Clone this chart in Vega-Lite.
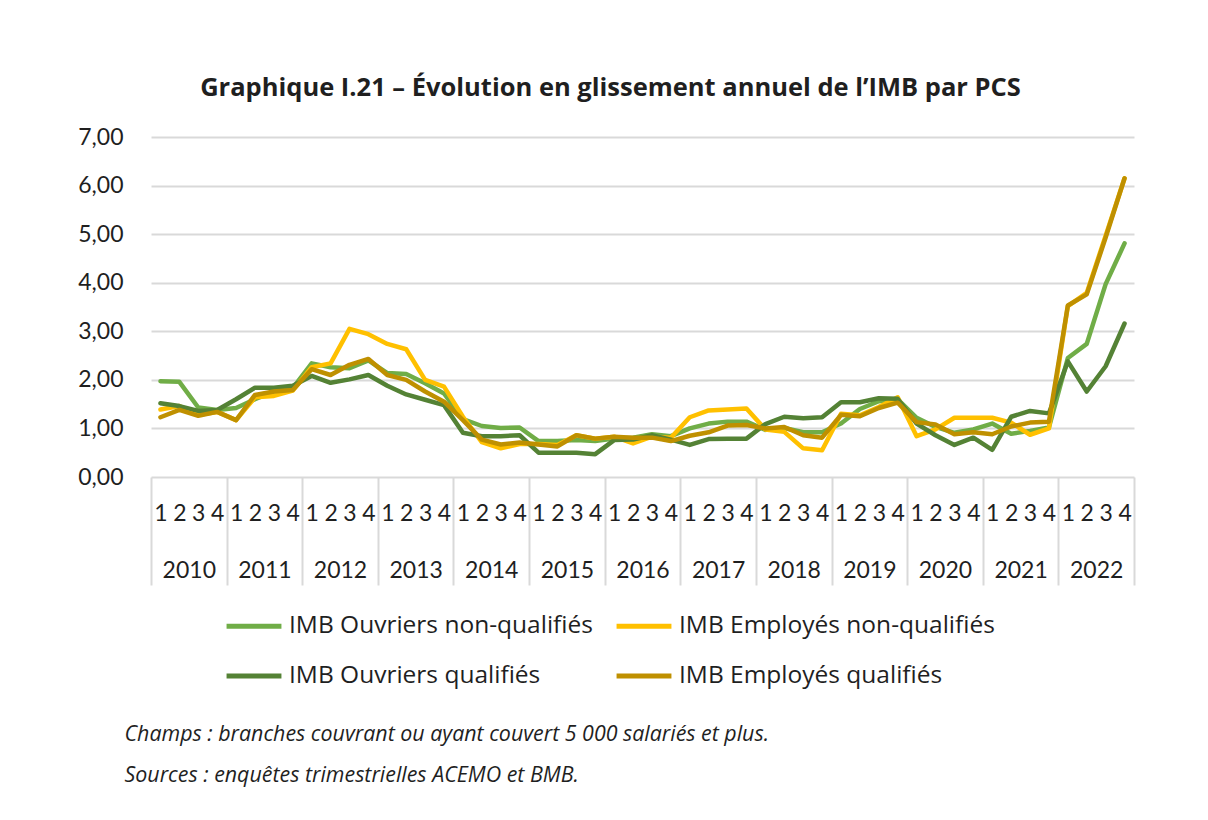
{
  "$schema": "https://vega.github.io/schema/vega-lite/v6.json",
  "width": 983,
  "height": 340,
  "autosize": {"type": "none"},
  "padding": {"left": 151, "top": 137, "right": 74, "bottom": 343},
  "background": "white",
  "config": {
    "font": "Lato",
    "view": {"stroke": null},
    "axis": {"labelFont": "Lato", "labelColor": "#1f1f1f", "titleFont": "Open Sans"}
  },
  "title": {
    "text": "Graphique I.21 – Évolution en glissement annuel de l’IMB par PCS",
    "font": "Open Sans",
    "fontSize": 25.5,
    "fontWeight": "bold",
    "color": "#1f1f1f",
    "anchor": "middle",
    "frame": "group",
    "dx": -32,
    "baseline": "alphabetic",
    "offset": 5
  },
  "resolve": {"scale": {"x": "independent"}},
  "layer": [
    {
      "data": {"values": [
        {"year": "2010"}, {"year": "2011"}, {"year": "2012"}, {"year": "2013"}, {"year": "2014"},
        {"year": "2015"}, {"year": "2016"}, {"year": "2017"}, {"year": "2018"}, {"year": "2019"},
        {"year": "2020"}, {"year": "2021"}, {"year": "2022"}
      ]},
      "mark": {"type": "bar", "opacity": 0},
      "encoding": {
        "x": {
          "field": "year", "type": "ordinal",
          "scale": {"type": "band", "paddingInner": 0, "paddingOuter": 0},
          "axis": {
            "orient": "bottom",
            "domain": false,
            "grid": false,
            "ticks": true,
            "tickBand": "extent",
            "tickSize": 108,
            "tickColor": "#d9d9d9",
            "tickWidth": 2,
            "labelAngle": 0,
            "labelFontSize": 23,
            "labelBaseline": "middle",
            "labelPadding": -15,
            "title": ["Champs : branches couvrant ou ayant couvert 5 000 salariés et plus.", "Sources : enquêtes trimestrielles ACEMO et BMB."],
            "titleFont": "Open Sans",
            "titleFontSize": 21.4,
            "titleFontStyle": "italic",
            "titleFontWeight": "normal",
            "titleColor": "#1f1f1f",
            "titleAlign": "left",
            "titleAnchor": "start",
            "titleBaseline": "alphabetic",
            "titleAngle": 0,
            "titleX": -27,
            "titleY": 263,
            "titleLineHeight": 41
          }
        }
      }
    },
    {
      "data": {"values": [
        {"k": "2010-1", "s": "IMB Ouvriers non-qualifiés", "v": 1.97},
        {"k": "2010-2", "s": "IMB Ouvriers non-qualifiés", "v": 1.96},
        {"k": "2010-3", "s": "IMB Ouvriers non-qualifiés", "v": 1.43},
        {"k": "2010-4", "s": "IMB Ouvriers non-qualifiés", "v": 1.38},
        {"k": "2011-1", "s": "IMB Ouvriers non-qualifiés", "v": 1.42},
        {"k": "2011-2", "s": "IMB Ouvriers non-qualifiés", "v": 1.60},
        {"k": "2011-3", "s": "IMB Ouvriers non-qualifiés", "v": 1.76},
        {"k": "2011-4", "s": "IMB Ouvriers non-qualifiés", "v": 1.83},
        {"k": "2012-1", "s": "IMB Ouvriers non-qualifiés", "v": 2.34},
        {"k": "2012-2", "s": "IMB Ouvriers non-qualifiés", "v": 2.26},
        {"k": "2012-3", "s": "IMB Ouvriers non-qualifiés", "v": 2.24},
        {"k": "2012-4", "s": "IMB Ouvriers non-qualifiés", "v": 2.40},
        {"k": "2013-1", "s": "IMB Ouvriers non-qualifiés", "v": 2.14},
        {"k": "2013-2", "s": "IMB Ouvriers non-qualifiés", "v": 2.12},
        {"k": "2013-3", "s": "IMB Ouvriers non-qualifiés", "v": 1.93},
        {"k": "2013-4", "s": "IMB Ouvriers non-qualifiés", "v": 1.72},
        {"k": "2014-1", "s": "IMB Ouvriers non-qualifiés", "v": 1.19},
        {"k": "2014-2", "s": "IMB Ouvriers non-qualifiés", "v": 1.05},
        {"k": "2014-3", "s": "IMB Ouvriers non-qualifiés", "v": 1.01},
        {"k": "2014-4", "s": "IMB Ouvriers non-qualifiés", "v": 1.02},
        {"k": "2015-1", "s": "IMB Ouvriers non-qualifiés", "v": 0.74},
        {"k": "2015-2", "s": "IMB Ouvriers non-qualifiés", "v": 0.74},
        {"k": "2015-3", "s": "IMB Ouvriers non-qualifiés", "v": 0.76},
        {"k": "2015-4", "s": "IMB Ouvriers non-qualifiés", "v": 0.74},
        {"k": "2016-1", "s": "IMB Ouvriers non-qualifiés", "v": 0.79},
        {"k": "2016-2", "s": "IMB Ouvriers non-qualifiés", "v": 0.81},
        {"k": "2016-3", "s": "IMB Ouvriers non-qualifiés", "v": 0.88},
        {"k": "2016-4", "s": "IMB Ouvriers non-qualifiés", "v": 0.84},
        {"k": "2017-1", "s": "IMB Ouvriers non-qualifiés", "v": 1.00},
        {"k": "2017-2", "s": "IMB Ouvriers non-qualifiés", "v": 1.10},
        {"k": "2017-3", "s": "IMB Ouvriers non-qualifiés", "v": 1.14},
        {"k": "2017-4", "s": "IMB Ouvriers non-qualifiés", "v": 1.14},
        {"k": "2018-1", "s": "IMB Ouvriers non-qualifiés", "v": 0.97},
        {"k": "2018-2", "s": "IMB Ouvriers non-qualifiés", "v": 1.01},
        {"k": "2018-3", "s": "IMB Ouvriers non-qualifiés", "v": 0.92},
        {"k": "2018-4", "s": "IMB Ouvriers non-qualifiés", "v": 0.92},
        {"k": "2019-1", "s": "IMB Ouvriers non-qualifiés", "v": 1.10},
        {"k": "2019-2", "s": "IMB Ouvriers non-qualifiés", "v": 1.40},
        {"k": "2019-3", "s": "IMB Ouvriers non-qualifiés", "v": 1.56},
        {"k": "2019-4", "s": "IMB Ouvriers non-qualifiés", "v": 1.60},
        {"k": "2020-1", "s": "IMB Ouvriers non-qualifiés", "v": 1.22},
        {"k": "2020-2", "s": "IMB Ouvriers non-qualifiés", "v": 1.03},
        {"k": "2020-3", "s": "IMB Ouvriers non-qualifiés", "v": 0.91},
        {"k": "2020-4", "s": "IMB Ouvriers non-qualifiés", "v": 0.98},
        {"k": "2021-1", "s": "IMB Ouvriers non-qualifiés", "v": 1.10},
        {"k": "2021-2", "s": "IMB Ouvriers non-qualifiés", "v": 0.89},
        {"k": "2021-3", "s": "IMB Ouvriers non-qualifiés", "v": 0.95},
        {"k": "2021-4", "s": "IMB Ouvriers non-qualifiés", "v": 1.02},
        {"k": "2022-1", "s": "IMB Ouvriers non-qualifiés", "v": 2.45},
        {"k": "2022-2", "s": "IMB Ouvriers non-qualifiés", "v": 2.74},
        {"k": "2022-3", "s": "IMB Ouvriers non-qualifiés", "v": 3.97},
        {"k": "2022-4", "s": "IMB Ouvriers non-qualifiés", "v": 4.81},

        {"k": "2010-1", "s": "IMB Employés non-qualifiés", "v": 1.39},
        {"k": "2010-2", "s": "IMB Employés non-qualifiés", "v": 1.46},
        {"k": "2010-3", "s": "IMB Employés non-qualifiés", "v": 1.28},
        {"k": "2010-4", "s": "IMB Employés non-qualifiés", "v": 1.34},
        {"k": "2011-1", "s": "IMB Employés non-qualifiés", "v": 1.17},
        {"k": "2011-2", "s": "IMB Employés non-qualifiés", "v": 1.64},
        {"k": "2011-3", "s": "IMB Employés non-qualifiés", "v": 1.67},
        {"k": "2011-4", "s": "IMB Employés non-qualifiés", "v": 1.78},
        {"k": "2012-1", "s": "IMB Employés non-qualifiés", "v": 2.26},
        {"k": "2012-2", "s": "IMB Employés non-qualifiés", "v": 2.34},
        {"k": "2012-3", "s": "IMB Employés non-qualifiés", "v": 3.05},
        {"k": "2012-4", "s": "IMB Employés non-qualifiés", "v": 2.94},
        {"k": "2013-1", "s": "IMB Employés non-qualifiés", "v": 2.74},
        {"k": "2013-2", "s": "IMB Employés non-qualifiés", "v": 2.63},
        {"k": "2013-3", "s": "IMB Employés non-qualifiés", "v": 2.00},
        {"k": "2013-4", "s": "IMB Employés non-qualifiés", "v": 1.86},
        {"k": "2014-1", "s": "IMB Employés non-qualifiés", "v": 1.24},
        {"k": "2014-2", "s": "IMB Employés non-qualifiés", "v": 0.72},
        {"k": "2014-3", "s": "IMB Employés non-qualifiés", "v": 0.59},
        {"k": "2014-4", "s": "IMB Employés non-qualifiés", "v": 0.68},
        {"k": "2015-1", "s": "IMB Employés non-qualifiés", "v": 0.68},
        {"k": "2015-2", "s": "IMB Employés non-qualifiés", "v": 0.66},
        {"k": "2015-3", "s": "IMB Employés non-qualifiés", "v": 0.86},
        {"k": "2015-4", "s": "IMB Employés non-qualifiés", "v": 0.79},
        {"k": "2016-1", "s": "IMB Employés non-qualifiés", "v": 0.83},
        {"k": "2016-2", "s": "IMB Employés non-qualifiés", "v": 0.69},
        {"k": "2016-3", "s": "IMB Employés non-qualifiés", "v": 0.83},
        {"k": "2016-4", "s": "IMB Employés non-qualifiés", "v": 0.81},
        {"k": "2017-1", "s": "IMB Employés non-qualifiés", "v": 1.23},
        {"k": "2017-2", "s": "IMB Employés non-qualifiés", "v": 1.37},
        {"k": "2017-3", "s": "IMB Employés non-qualifiés", "v": 1.39},
        {"k": "2017-4", "s": "IMB Employés non-qualifiés", "v": 1.41},
        {"k": "2018-1", "s": "IMB Employés non-qualifiés", "v": 0.98},
        {"k": "2018-2", "s": "IMB Employés non-qualifiés", "v": 0.93},
        {"k": "2018-3", "s": "IMB Employés non-qualifiés", "v": 0.59},
        {"k": "2018-4", "s": "IMB Employés non-qualifiés", "v": 0.55},
        {"k": "2019-1", "s": "IMB Employés non-qualifiés", "v": 1.30},
        {"k": "2019-2", "s": "IMB Employés non-qualifiés", "v": 1.27},
        {"k": "2019-3", "s": "IMB Employés non-qualifiés", "v": 1.44},
        {"k": "2019-4", "s": "IMB Employés non-qualifiés", "v": 1.64},
        {"k": "2020-1", "s": "IMB Employés non-qualifiés", "v": 0.84},
        {"k": "2020-2", "s": "IMB Employés non-qualifiés", "v": 0.98},
        {"k": "2020-3", "s": "IMB Employés non-qualifiés", "v": 1.22},
        {"k": "2020-4", "s": "IMB Employés non-qualifiés", "v": 1.22},
        {"k": "2021-1", "s": "IMB Employés non-qualifiés", "v": 1.22},
        {"k": "2021-2", "s": "IMB Employés non-qualifiés", "v": 1.12},
        {"k": "2021-3", "s": "IMB Employés non-qualifiés", "v": 0.87},
        {"k": "2021-4", "s": "IMB Employés non-qualifiés", "v": 1.00},
        {"k": "2022-1", "s": "IMB Employés non-qualifiés", "v": 3.52},
        {"k": "2022-2", "s": "IMB Employés non-qualifiés", "v": 3.79},
        {"k": "2022-3", "s": "IMB Employés non-qualifiés", "v": 4.97},
        {"k": "2022-4", "s": "IMB Employés non-qualifiés", "v": 6.15},

        {"k": "2010-1", "s": "IMB Ouvriers qualifiés", "v": 1.52},
        {"k": "2010-2", "s": "IMB Ouvriers qualifiés", "v": 1.46},
        {"k": "2010-3", "s": "IMB Ouvriers qualifiés", "v": 1.36},
        {"k": "2010-4", "s": "IMB Ouvriers qualifiés", "v": 1.38},
        {"k": "2011-1", "s": "IMB Ouvriers qualifiés", "v": 1.60},
        {"k": "2011-2", "s": "IMB Ouvriers qualifiés", "v": 1.84},
        {"k": "2011-3", "s": "IMB Ouvriers qualifiés", "v": 1.84},
        {"k": "2011-4", "s": "IMB Ouvriers qualifiés", "v": 1.88},
        {"k": "2012-1", "s": "IMB Ouvriers qualifiés", "v": 2.08},
        {"k": "2012-2", "s": "IMB Ouvriers qualifiés", "v": 1.94},
        {"k": "2012-3", "s": "IMB Ouvriers qualifiés", "v": 2.01},
        {"k": "2012-4", "s": "IMB Ouvriers qualifiés", "v": 2.10},
        {"k": "2013-1", "s": "IMB Ouvriers qualifiés", "v": 1.88},
        {"k": "2013-2", "s": "IMB Ouvriers qualifiés", "v": 1.70},
        {"k": "2013-3", "s": "IMB Ouvriers qualifiés", "v": 1.59},
        {"k": "2013-4", "s": "IMB Ouvriers qualifiés", "v": 1.48},
        {"k": "2014-1", "s": "IMB Ouvriers qualifiés", "v": 0.91},
        {"k": "2014-2", "s": "IMB Ouvriers qualifiés", "v": 0.84},
        {"k": "2014-3", "s": "IMB Ouvriers qualifiés", "v": 0.84},
        {"k": "2014-4", "s": "IMB Ouvriers qualifiés", "v": 0.86},
        {"k": "2015-1", "s": "IMB Ouvriers qualifiés", "v": 0.50},
        {"k": "2015-2", "s": "IMB Ouvriers qualifiés", "v": 0.50},
        {"k": "2015-3", "s": "IMB Ouvriers qualifiés", "v": 0.50},
        {"k": "2015-4", "s": "IMB Ouvriers qualifiés", "v": 0.47},
        {"k": "2016-1", "s": "IMB Ouvriers qualifiés", "v": 0.76},
        {"k": "2016-2", "s": "IMB Ouvriers qualifiés", "v": 0.77},
        {"k": "2016-3", "s": "IMB Ouvriers qualifiés", "v": 0.86},
        {"k": "2016-4", "s": "IMB Ouvriers qualifiés", "v": 0.77},
        {"k": "2017-1", "s": "IMB Ouvriers qualifiés", "v": 0.66},
        {"k": "2017-2", "s": "IMB Ouvriers qualifiés", "v": 0.78},
        {"k": "2017-3", "s": "IMB Ouvriers qualifiés", "v": 0.79},
        {"k": "2017-4", "s": "IMB Ouvriers qualifiés", "v": 0.79},
        {"k": "2018-1", "s": "IMB Ouvriers qualifiés", "v": 1.09},
        {"k": "2018-2", "s": "IMB Ouvriers qualifiés", "v": 1.24},
        {"k": "2018-3", "s": "IMB Ouvriers qualifiés", "v": 1.21},
        {"k": "2018-4", "s": "IMB Ouvriers qualifiés", "v": 1.23},
        {"k": "2019-1", "s": "IMB Ouvriers qualifiés", "v": 1.54},
        {"k": "2019-2", "s": "IMB Ouvriers qualifiés", "v": 1.54},
        {"k": "2019-3", "s": "IMB Ouvriers qualifiés", "v": 1.62},
        {"k": "2019-4", "s": "IMB Ouvriers qualifiés", "v": 1.61},
        {"k": "2020-1", "s": "IMB Ouvriers qualifiés", "v": 1.10},
        {"k": "2020-2", "s": "IMB Ouvriers qualifiés", "v": 0.86},
        {"k": "2020-3", "s": "IMB Ouvriers qualifiés", "v": 0.66},
        {"k": "2020-4", "s": "IMB Ouvriers qualifiés", "v": 0.81},
        {"k": "2021-1", "s": "IMB Ouvriers qualifiés", "v": 0.56},
        {"k": "2021-2", "s": "IMB Ouvriers qualifiés", "v": 1.24},
        {"k": "2021-3", "s": "IMB Ouvriers qualifiés", "v": 1.36},
        {"k": "2021-4", "s": "IMB Ouvriers qualifiés", "v": 1.31},
        {"k": "2022-1", "s": "IMB Ouvriers qualifiés", "v": 2.38},
        {"k": "2022-2", "s": "IMB Ouvriers qualifiés", "v": 1.76},
        {"k": "2022-3", "s": "IMB Ouvriers qualifiés", "v": 2.28},
        {"k": "2022-4", "s": "IMB Ouvriers qualifiés", "v": 3.16},

        {"k": "2010-1", "s": "IMB Employés qualifiés", "v": 1.23},
        {"k": "2010-2", "s": "IMB Employés qualifiés", "v": 1.38},
        {"k": "2010-3", "s": "IMB Employés qualifiés", "v": 1.26},
        {"k": "2010-4", "s": "IMB Employés qualifiés", "v": 1.34},
        {"k": "2011-1", "s": "IMB Employés qualifiés", "v": 1.17},
        {"k": "2011-2", "s": "IMB Employés qualifiés", "v": 1.69},
        {"k": "2011-3", "s": "IMB Employés qualifiés", "v": 1.76},
        {"k": "2011-4", "s": "IMB Employés qualifiés", "v": 1.79},
        {"k": "2012-1", "s": "IMB Employés qualifiés", "v": 2.22},
        {"k": "2012-2", "s": "IMB Employés qualifiés", "v": 2.10},
        {"k": "2012-3", "s": "IMB Employés qualifiés", "v": 2.31},
        {"k": "2012-4", "s": "IMB Employés qualifiés", "v": 2.43},
        {"k": "2013-1", "s": "IMB Employés qualifiés", "v": 2.10},
        {"k": "2013-2", "s": "IMB Employés qualifiés", "v": 2.00},
        {"k": "2013-3", "s": "IMB Employés qualifiés", "v": 1.76},
        {"k": "2013-4", "s": "IMB Employés qualifiés", "v": 1.55},
        {"k": "2014-1", "s": "IMB Employés qualifiés", "v": 1.17},
        {"k": "2014-2", "s": "IMB Employés qualifiés", "v": 0.77},
        {"k": "2014-3", "s": "IMB Employés qualifiés", "v": 0.67},
        {"k": "2014-4", "s": "IMB Employés qualifiés", "v": 0.71},
        {"k": "2015-1", "s": "IMB Employés qualifiés", "v": 0.67},
        {"k": "2015-2", "s": "IMB Employés qualifiés", "v": 0.63},
        {"k": "2015-3", "s": "IMB Employés qualifiés", "v": 0.86},
        {"k": "2015-4", "s": "IMB Employés qualifiés", "v": 0.79},
        {"k": "2016-1", "s": "IMB Employés qualifiés", "v": 0.83},
        {"k": "2016-2", "s": "IMB Employés qualifiés", "v": 0.81},
        {"k": "2016-3", "s": "IMB Employés qualifiés", "v": 0.81},
        {"k": "2016-4", "s": "IMB Employés qualifiés", "v": 0.74},
        {"k": "2017-1", "s": "IMB Employés qualifiés", "v": 0.85},
        {"k": "2017-2", "s": "IMB Employés qualifiés", "v": 0.92},
        {"k": "2017-3", "s": "IMB Employés qualifiés", "v": 1.06},
        {"k": "2017-4", "s": "IMB Employés qualifiés", "v": 1.07},
        {"k": "2018-1", "s": "IMB Employés qualifiés", "v": 1.00},
        {"k": "2018-2", "s": "IMB Employés qualifiés", "v": 1.03},
        {"k": "2018-3", "s": "IMB Employés qualifiés", "v": 0.86},
        {"k": "2018-4", "s": "IMB Employés qualifiés", "v": 0.81},
        {"k": "2019-1", "s": "IMB Employés qualifiés", "v": 1.28},
        {"k": "2019-2", "s": "IMB Employés qualifiés", "v": 1.25},
        {"k": "2019-3", "s": "IMB Employés qualifiés", "v": 1.42},
        {"k": "2019-4", "s": "IMB Employés qualifiés", "v": 1.53},
        {"k": "2020-1", "s": "IMB Employés qualifiés", "v": 1.13},
        {"k": "2020-2", "s": "IMB Employés qualifiés", "v": 1.08},
        {"k": "2020-3", "s": "IMB Employés qualifiés", "v": 0.88},
        {"k": "2020-4", "s": "IMB Employés qualifiés", "v": 0.92},
        {"k": "2021-1", "s": "IMB Employés qualifiés", "v": 0.88},
        {"k": "2021-2", "s": "IMB Employés qualifiés", "v": 1.04},
        {"k": "2021-3", "s": "IMB Employés qualifiés", "v": 1.12},
        {"k": "2021-4", "s": "IMB Employés qualifiés", "v": 1.14},
        {"k": "2022-1", "s": "IMB Employés qualifiés", "v": 3.53},
        {"k": "2022-2", "s": "IMB Employés qualifiés", "v": 3.76},
        {"k": "2022-3", "s": "IMB Employés qualifiés", "v": 4.93},
        {"k": "2022-4", "s": "IMB Employés qualifiés", "v": 6.15}
      ]},
      "mark": {"type": "line", "strokeWidth": 4.5, "strokeJoin": "round", "strokeCap": "round"},
      "encoding": {
        "x": {
          "field": "k", "type": "ordinal",
          "scale": {"type": "point", "padding": 0.5},
          "axis": {
            "orient": "bottom",
            "domain": false,
            "grid": false,
            "ticks": false,
            "tickSize": 0,
            "labelAngle": 0,
            "labelFontSize": 23,
            "labelBaseline": "middle",
            "labelPadding": 36,
            "labelExpr": "slice(datum.value, 5)",
            "title": null
          }
        },
        "y": {
          "field": "v", "type": "quantitative",
          "scale": {"domain": [0, 7], "nice": false},
          "axis": {
            "values": [0, 1, 2, 3, 4, 5, 6, 7],
            "labelExpr": "replace(format(datum.value, '.2f'), '.', ',')",
            "grid": true,
            "gridColor": "#d9d9d9",
            "gridWidth": 2,
            "domain": false,
            "ticks": false,
            "labelFontSize": 23,
            "labelPadding": 28,
            "title": null
          }
        },
        "color": {
          "field": "s", "type": "nominal",
          "scale": {
            "domain": ["IMB Ouvriers non-qualifiés", "IMB Ouvriers qualifiés", "IMB Employés non-qualifiés", "IMB Employés qualifiés"],
            "range": ["#70AD47", "#548235", "#FFC000", "#BF9000"]
          },
          "legend": {
            "title": null,
            "orient": "none",
            "legendX": 76,
            "legendY": 462,
            "columns": 2,
            "padding": 0,
            "rowPadding": 11,
            "columnPadding": 13,
            "symbolType": "M-1.12,0H1.12",
            "symbolSize": 2401,
            "symbolStrokeWidth": 5,
            "labelFontSize": 24.5,
            "labelFont": "Open Sans",
            "labelColor": "#1f1f1f",
            "labelOffset": 8,
            "labelLimit": 500
          }
        }
      }
    }
  ]
}
